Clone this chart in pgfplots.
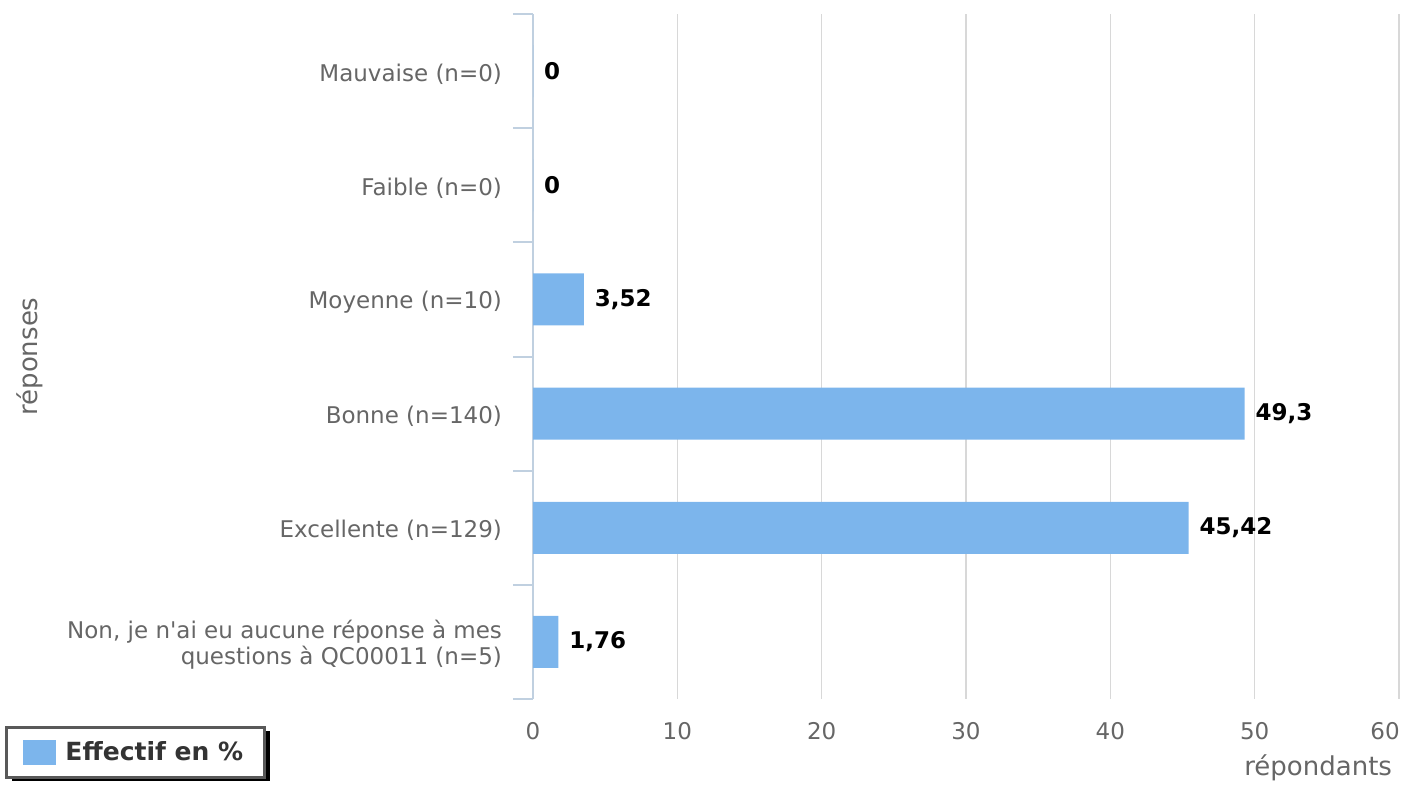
\documentclass[border=0pt]{standalone}
\usepackage{fontspec}
\setmainfont{DejaVu Sans}
\usepackage{pgfplots}
\pgfplotsset{compat=1.18}
\usetikzlibrary{shadows}
\makeatletter
\tikzset{no preactions/.code={\def\tikz@preactions{}}}
\makeatother
\definecolor{barcol}{HTML}{7CB5EC}
\definecolor{axiscol}{HTML}{C0D0E0}
\definecolor{gridcol}{HTML}{D8D8D8}
\definecolor{labcol}{HTML}{666666}
\definecolor{legtext}{HTML}{333333}
\begin{document}
\begin{tikzpicture}
\useasboundingbox (0,0) rectangle (701pt,-392pt);
\begin{axis}[
  at={(266.5pt,-349.5pt)}, anchor=south west,
  scale only axis, width=433pt, height=342.5pt,
  xbar, bar width=26pt, bar shift=0pt,
  xmin=0, xmax=60, ymin=-0.5, ymax=5.5, y dir=reverse,
  enlargelimits=false,
  separate axis lines,
  axis y line*=left, axis x line*=bottom,
  x axis line style={draw=none},
  y axis line style={draw=axiscol, line width=1pt},
  xtick={0,10,...,50},
  extra x ticks={60},
  extra x tick style={xticklabel style={xshift=-7pt}},
  xmajorgrids, grid style={gridcol, line width=0.8pt},
  major tick length=0pt,
  ytick={0,1,2,3,4,5},
  minor ytick={-0.5,0.5,1.5,2.5,3.5,4.5,5.5},
  minor tick length=10pt, tick align=outside,
  minor tick style={axiscol, line width=1pt},
  yticklabels={Mauvaise (n=0), Faible (n=0), Moyenne (n=10), Bonne (n=140), Excellente (n=129), {Non, je n\textquotesingle ai eu aucune réponse à mes\\questions à QC00011 (n=5)}},
  yticklabel style={anchor=east, align=right, xshift=-12pt, yshift=-1.5pt, text=labcol, font=\fontsize{11.5}{13}\selectfont},
  xticklabel style={anchor=center, yshift=-16pt, text=labcol, font=\fontsize{11.5}{13}\selectfont},
  /pgf/number format/assume math mode=true,
  xlabel={répondants},
  xlabel style={at={(axis description cs:1,-0.1007)}, anchor=east, text=labcol, font=\fontsize{13}{15}\selectfont},
  ylabel={réponses},
  ylabel style={at={(axis description cs:-0.5808,0.5)}, anchor=center, rotate=0, text=labcol, font=\fontsize{13}{15}\selectfont},
  nodes near coords,
  point meta=explicit symbolic,
  nodes near coords style={anchor=west, xshift=2pt, font=\bfseries\fontsize{11.5}{13}\selectfont, text=black},
  legend style={at={(axis description cs:-0.6097,-0.0394)}, anchor=north west,
    draw=black!65, line width=1.5pt, fill=white,
    drop shadow={shadow xshift=3pt, shadow yshift=-1.5pt, fill=black, opacity=1},
    font=\bfseries\fontsize{12.5}{14}\selectfont, text=legtext,
    inner xsep=8.5pt, inner ysep=5pt},
  legend image code/.code={\fill[no preactions, barcol] (0pt,-6.25pt) rectangle (16.5pt,6.25pt); \path[no preactions] (19pt,0pt);},
]
\addplot[fill=barcol, draw=none] coordinates {
  (0,0) [0]
  (0,1) [0]
  (3.52,2) [3,52]
  (49.3,3) [49,3]
  (45.42,4) [45,42]
  (1.76,5) [1,76]
};
\addlegendentry{Effectif en \%}
\end{axis}
\end{tikzpicture}
\end{document}
